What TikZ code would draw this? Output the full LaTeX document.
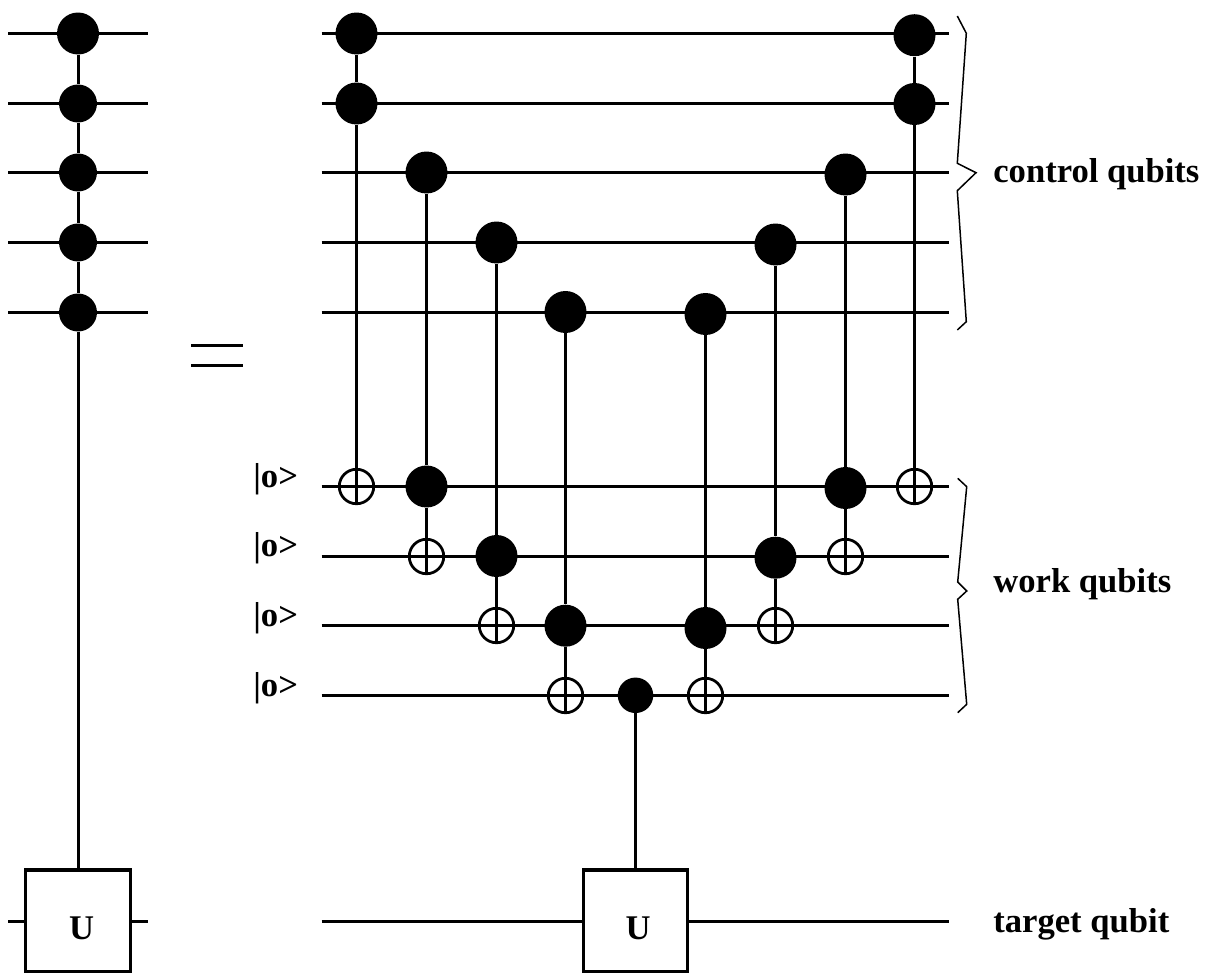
\documentclass[tikz,border=0pt]{standalone}
\usepackage{fontspec}
\setmainfont{Liberation Serif}
\usepackage{xcolor}

\tikzset{
    wire/.style={line width=0.6mm},
    ctrl/.style={circle,fill=black,inner sep=0pt,minimum size=0.84cm},
    ctrlmd/.style={circle,fill=black,inner sep=0pt,minimum size=0.76cm},
    ctrlsm/.style={circle,fill=black,inner sep=0pt,minimum size=0.71cm},
    targ/.style={draw,circle,line width=0.55mm,inner sep=0pt,minimum size=0.69cm},
    gatebox/.style={draw,line width=0.65mm,inner sep=0pt,minimum width=2.09cm,minimum height=2.04cm},
    lab/.style={inner sep=0pt,anchor=base west,font=\bfseries\fontsize{19.7pt}{22pt}\selectfont},
    brace/.style={line width=0.3mm,line join=miter}
}

\begin{document}
\begin{tikzpicture}[x=0.02cm,y=-0.02cm]
    \useasboundingbox (0,0) rectangle (1207,973);
    % left circuit, wires
    \coordinate (la1) at (8,33.5);    \coordinate (lb1) at (147.7,33.5);
    \coordinate (la2) at (8,103.5);   \coordinate (lb2) at (147.7,103.5);
    \coordinate (la3) at (8,172.5);   \coordinate (lb3) at (147.7,172.5);
    \coordinate (la4) at (8,242.5);   \coordinate (lb4) at (147.7,242.5);
    \coordinate (la5) at (8,312.5);   \coordinate (lb5) at (147.7,312.5);
    \coordinate (la6) at (8,921.5);   \coordinate (lb6) at (147.7,921.5);
    \draw[wire] (la1) to (lb1);
    \draw[wire] (la2) to (lb2);
    \draw[wire] (la3) to (lb3);
    \draw[wire] (la4) to (lb4);
    \draw[wire] (la5) to (lb5);
    \node[ctrl] (l1) at (78,33.5) {};
    \node[ctrlmd] (l2) at (78,103.5) {};
    \node[ctrlmd] (l3) at (78,172.5) {};
    \node[ctrlmd] (l4) at (78,242.5) {};
    \node[ctrlmd] (l5) at (78,312.5) {};
    \node[gatebox] (lu) at (78,921) {};
    \node[lab,anchor=base] (lutext) at (81.7,939) {U};
    \draw[wire] (l1) to (l2);
    \draw[wire] (l2) to (l3);
    \draw[wire] (l3) to (l4);
    \draw[wire] (l4) to (l5);
    \draw[wire] (l5) to (l5 |- lu.north);
    \draw[wire] (la6) to (lu.west |- la6);
    \draw[wire] (lu.east |- lb6) to (lb6);
    % equals sign
    \coordinate (e1) at (191,345.5);  \coordinate (e2) at (243,345.5);
    \coordinate (e3) at (191,365.5);  \coordinate (e4) at (243,365.5);
    \draw[wire] (e1) to (e2);
    \draw[wire] (e3) to (e4);
    % right circuit, wires
    \coordinate (ra1) at (321.7,33.5);  \coordinate (rb1) at (948.7,33.5);
    \coordinate (ra2) at (321.7,103.5); \coordinate (rb2) at (948.7,103.5);
    \coordinate (ra3) at (321.7,172.5); \coordinate (rb3) at (948.7,172.5);
    \coordinate (ra4) at (321.7,242.5); \coordinate (rb4) at (948.7,242.5);
    \coordinate (ra5) at (321.7,312.5); \coordinate (rb5) at (948.7,312.5);
    \coordinate (ra6) at (321.7,486.5); \coordinate (rb6) at (948.7,486.5);
    \coordinate (ra7) at (321.7,556.5); \coordinate (rb7) at (948.7,556.5);
    \coordinate (ra8) at (321.7,625.5); \coordinate (rb8) at (948.7,625.5);
    \coordinate (ra9) at (321.7,695.5); \coordinate (rb9) at (948.7,695.5);
    \coordinate (ra10) at (321.7,921.5); \coordinate (rb10) at (948.7,921.5);
    \draw[wire] (ra1) to (rb1);
    \draw[wire] (ra2) to (rb2);
    \draw[wire] (ra3) to (rb3);
    \draw[wire] (ra4) to (rb4);
    \draw[wire] (ra5) to (rb5);
    \draw[wire] (ra6) to (rb6);
    \draw[wire] (ra7) to (rb7);
    \draw[wire] (ra8) to (rb8);
    \draw[wire] (ra9) to (rb9);
    % controls, upper part
    \node[ctrl] (c1) at (356.5,33.5) {};
    \node[ctrl] (c2) at (356.5,103.5) {};
    \node[ctrl] (c3) at (426.5,172.5) {};
    \node[ctrl] (c4) at (496.5,242.5) {};
    \node[ctrl] (c5) at (565.5,312) {};
    \node[ctrl] (c6) at (705.5,314) {};
    \node[ctrl] (c7) at (775.5,244.5) {};
    \node[ctrl] (c8) at (845.5,174.5) {};
    \node[ctrl] (c9) at (914.5,104) {};
    \node[ctrl] (c10) at (914.5,35.2) {};
    % controls on the work qubits
    \node[ctrl] (w1) at (426.5,486.5) {};
    \node[ctrl] (w2) at (496.5,556) {};
    \node[ctrl] (w3) at (565.5,625.7) {};
    \node[ctrl] (w4) at (705.5,628) {};
    \node[ctrl] (w5) at (775.5,557.7) {};
    \node[ctrl] (w6) at (845.5,488) {};
    \node[ctrlsm] (w7) at (635.5,695.3) {};
    % targets
    \node[targ] (t1) at (356.5,486.5) {};
    \node[targ] (t2) at (426.5,556.5) {};
    \node[targ] (t3) at (496.5,625.5) {};
    \node[targ] (t4) at (565.5,695.5) {};
    \node[targ] (t5) at (705.5,695.5) {};
    \node[targ] (t6) at (775.5,625.5) {};
    \node[targ] (t7) at (845.5,556.5) {};
    \node[targ] (t8) at (914.5,486.5) {};
    % vertical connections
    \draw[wire] (c1) to (c2);
    \draw[wire] (c2) to (t1.south);
    \draw[wire] (c3) to (w1);
    \draw[wire] (w1) to (t2.south);
    \draw[wire] (c4) to (w2);
    \draw[wire] (w2) to (t3.south);
    \draw[wire] (c5) to (w3);
    \draw[wire] (w3) to (t4.south);
    \draw[wire] (c6) to (w4);
    \draw[wire] (w4) to (t5.south);
    \draw[wire] (c7) to (w5);
    \draw[wire] (w5) to (t6.south);
    \draw[wire] (c8) to (w6);
    \draw[wire] (w6) to (t7.south);
    \draw[wire] (c10) to (c9);
    \draw[wire] (c9) to (t8.south);
    % target gate
    \node[gatebox] (ru) at (635.5,921) {};
    \node[lab,anchor=base] (rutext) at (638,939) {U};
    \draw[wire] (w7) to (w7 |- ru.north);
    \draw[wire] (ra10) to (ru.west |- ra10);
    \draw[wire] (ru.east |- rb10) to (rb10);
    % braces
    \coordinate (b1) at (957.3,16);
    \coordinate (b2) at (957.3,330);
    \draw[brace] (b1) -- (966.3,33.3) -- (957.3,163.3) -- (976,172.7) -- (957.3,190.7) -- (966.3,321.7) -- (b2);
    \coordinate (b3) at (957.7,478.3);
    \coordinate (b4) at (957.7,712.7);
    \draw[brace] (b3) -- (966.7,486.7) -- (957.7,582) -- (966.7,591) -- (957.7,599.3) -- (966.7,704.3) -- (b4);
    % labels
    \node[lab] (k1) at (993,183) {control qubits};
    \node[lab] (k2) at (993,592) {work qubits};
    \node[lab] (k3) at (993,932) {target qubit};
    \node[lab] (z1) at (253,487) {|o>};
    \node[lab] (z2) at (253,556.7) {|o>};
    \node[lab] (z3) at (253,626) {|o>};
    \node[lab] (z4) at (253,696.7) {|o>};
\end{tikzpicture}
\end{document}
